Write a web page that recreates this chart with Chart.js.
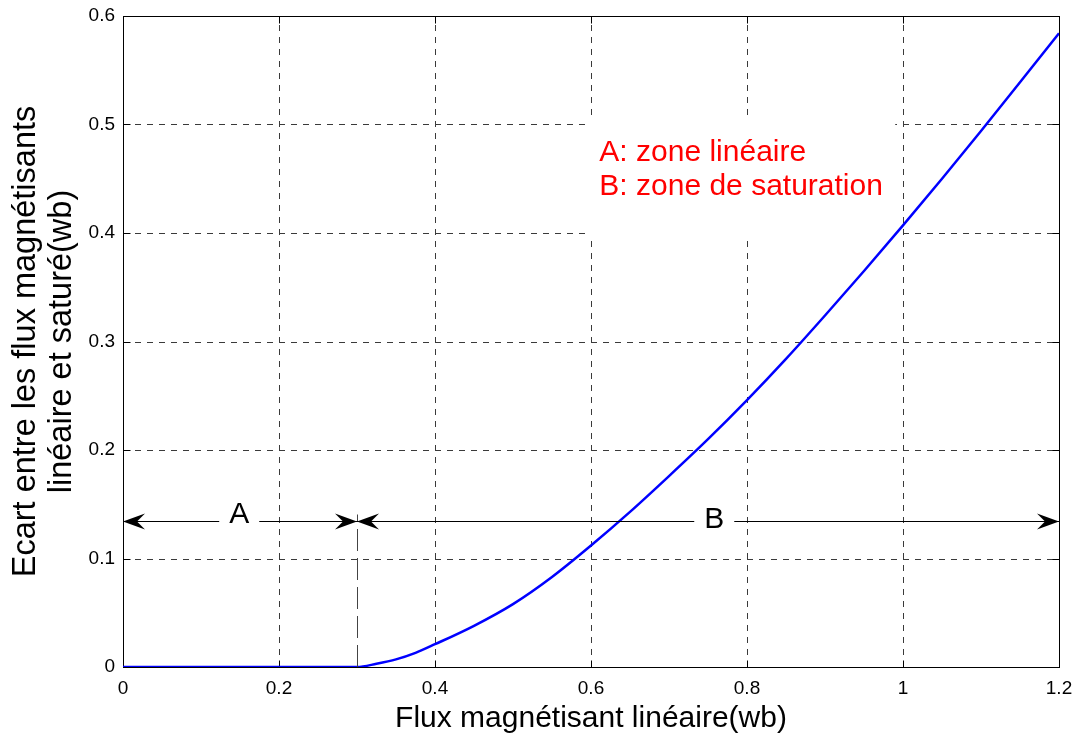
<!DOCTYPE html>
<html>
<head>
<meta charset="utf-8">
<script src="https://cdn.jsdelivr.net/npm/chart.js@4.4.0/dist/chart.umd.min.js"></script>
<style>
html,body{margin:0;padding:0;background:#fff;}
#wrap{width:1079px;height:737px;}
</style>
</head>
<body>
<div id="wrap"><canvas id="c" width="1079" height="737"></canvas></div>
<script>
// ---- data ----
const fluxLineaire = [0, 0.05, 0.1, 0.15, 0.2, 0.25, 0.3, 0.325, 0.35, 0.375, 0.4, 0.45, 0.5, 0.55, 0.6, 0.65, 0.7, 0.75, 0.8, 0.85, 0.9, 0.95, 1.0, 1.05, 1.1, 1.15, 1.2];
const ecartFlux    = [0, 0, 0, 0, 0, 0, 0, 0.003, 0.007, 0.013, 0.021, 0.038, 0.058, 0.083, 0.112, 0.143, 0.176, 0.210, 0.246, 0.284, 0.324, 0.365, 0.407, 0.450, 0.494, 0.539, 0.584];
const xTicks = [0, 0.2, 0.4, 0.6, 0.8, 1.0, 1.2];
const xTickLabels = ['0', '0.2', '0.4', '0.6', '0.8', '1', '1.2'];
const yTicks = [0, 0.1, 0.2, 0.3, 0.4, 0.5, 0.6];
const yTickLabels = ['0', '0.1', '0.2', '0.3', '0.4', '0.5', '0.6'];
const xTitle = 'Flux magnétisant linéaire(wb)';
const yTitle = ['Ecart entre les flux magnétisants', 'linéaire et saturé(wb)'];
const zoneA = {from: 0, to: 0.3, label: 'A', labelX: 0.149};
const zoneB = {from: 0.3, to: 1.2, label: 'B', labelX: 0.758};
const arrowY = 0.1345;
const noteLines = ['A: zone linéaire', 'B: zone de saturation'];
const noteAnchor = {x: 0.612, y: 0.466};
const noteBox = {x0: 0.594, x1: 0.99, y0: 0.396, y1: 0.508};

const FONT = '"Liberation Sans", Arial, Helvetica, sans-serif';

const decor = {
  id: 'decor',
  beforeDatasetsDraw(chart) {
    const {ctx, chartArea: a, scales: {x, y}} = chart;
    ctx.save();
    // dashed grid
    ctx.strokeStyle = '#3a3a3a';
    ctx.lineWidth = 1;
    ctx.setLineDash([6, 6]);
    xTicks.forEach(v => {
      if (v <= x.min || v >= x.max) return;
      const px = Math.round(x.getPixelForValue(v)) + 0.5;
      ctx.beginPath(); ctx.moveTo(px, a.bottom); ctx.lineTo(px, a.top); ctx.stroke();
    });
    yTicks.forEach(v => {
      if (v <= y.min || v >= y.max) return;
      const py = Math.round(y.getPixelForValue(v)) + 0.5;
      ctx.beginPath(); ctx.moveTo(a.left, py); ctx.lineTo(a.right, py); ctx.stroke();
    });
    ctx.setLineDash([]);
    // white box behind the note
    ctx.fillStyle = '#fff';
    const bx0 = x.getPixelForValue(noteBox.x0), bx1 = x.getPixelForValue(noteBox.x1);
    const by0 = y.getPixelForValue(noteBox.y1), by1 = y.getPixelForValue(noteBox.y0);
    ctx.fillRect(bx0, by0, bx1 - bx0, by1 - by0);
    // frame
    ctx.strokeStyle = '#000';
    const L = Math.round(a.left) + 0.5, R = Math.round(a.right) + 0.5;
    const T = Math.round(a.top) + 0.5, B = Math.round(a.bottom) + 0.5;
    ctx.strokeRect(L, T, R - L, B - T);
    // inner ticks
    const tl = 7;
    ctx.beginPath();
    xTicks.forEach(v => {
      const px = Math.round(x.getPixelForValue(v)) + 0.5;
      ctx.moveTo(px, B); ctx.lineTo(px, B - tl);
      ctx.moveTo(px, T); ctx.lineTo(px, T + tl);
    });
    yTicks.forEach(v => {
      const py = Math.round(y.getPixelForValue(v)) + 0.5;
      ctx.moveTo(L, py); ctx.lineTo(L + tl, py);
      ctx.moveTo(R, py); ctx.lineTo(R - tl, py);
    });
    ctx.stroke();
    // axis titles
    ctx.fillStyle = '#000';
    ctx.font = '30px ' + FONT;
    ctx.textAlign = 'center';
    ctx.textBaseline = 'alphabetic';
    ctx.fillText(xTitle, (a.left + a.right) / 2, 727);
    ctx.save();
    ctx.font = '32.5px ' + FONT;
    ctx.translate(0, (a.top + a.bottom) / 2);
    ctx.rotate(-Math.PI / 2);
    ctx.fillText(yTitle[0], 0, 35);
    ctx.fillText(yTitle[1], 0, 71);
    ctx.restore();
    ctx.restore();
  },
  afterDatasetsDraw(chart) {
    const {ctx, scales: {x, y}} = chart;
    ctx.save();
    const ay = Math.round(y.getPixelForValue(arrowY)) + 0.5;
    // vertical dashed separator
    const sx = Math.round(x.getPixelForValue(zoneA.to)) + 0.5;
    ctx.strokeStyle = '#444';
    ctx.lineWidth = 1;
    ctx.setLineDash([22, 7]);
    ctx.beginPath(); ctx.moveTo(sx, y.getPixelForValue(0)); ctx.lineTo(sx, ay - 7); ctx.stroke();
    ctx.setLineDash([]);
    // arrows
    ctx.strokeStyle = '#000';
    ctx.fillStyle = '#000';
    function head(tx, dir) {
      ctx.beginPath();
      ctx.moveTo(tx, ay);
      ctx.lineTo(tx - dir * 22, ay - 8);
      ctx.lineTo(tx - dir * 14, ay);
      ctx.lineTo(tx - dir * 22, ay + 8);
      ctx.closePath();
      ctx.fill();
    }
    [zoneA, zoneB].forEach(z => {
      const x0 = x.getPixelForValue(z.from), x1 = x.getPixelForValue(z.to);
      ctx.beginPath(); ctx.moveTo(x0, ay); ctx.lineTo(x1, ay); ctx.stroke();
      head(x0, -1); head(x1, 1);
      const lx = x.getPixelForValue(z.labelX);
      ctx.font = '30px ' + FONT;
      const w = ctx.measureText(z.label).width;
      ctx.fillStyle = '#fff';
      ctx.fillRect(lx - w / 2 - 10, ay - 3, w + 20, 6);
      ctx.fillStyle = '#000';
      ctx.textAlign = 'center';
      ctx.textBaseline = 'alphabetic';
      ctx.fillText(z.label, lx, z.label === 'A' ? ay + 1 : ay + 6);
    });
    // note
    ctx.fillStyle = '#ff0000';
    ctx.font = '30px ' + FONT;
    ctx.textAlign = 'left';
    ctx.textBaseline = 'alphabetic';
    const nx = x.getPixelForValue(noteAnchor.x) - 1;
    const ny = y.getPixelForValue(noteAnchor.y);
    noteLines.forEach((t, i) => ctx.fillText(t, nx, ny + i * 34));
    ctx.restore();
  }
};

new Chart(document.getElementById('c'), {
  type: 'line',
  data: {
    datasets: [{
      data: fluxLineaire.map((v, i) => ({x: v, y: ecartFlux[i]})),
      borderColor: '#0000ff',
      borderWidth: 2.5,
      pointRadius: 0,
      cubicInterpolationMode: 'monotone',
      fill: false
    }]
  },
  options: {
    responsive: false,
    devicePixelRatio: 1,
    animation: false,
    layout: {padding: {top: 16, right: 20, left: 0, bottom: 0}},
    plugins: {legend: {display: false}, tooltip: {enabled: false}},
    scales: {
      x: {
        type: 'linear', min: 0, max: 1.2,
        afterBuildTicks: s => { s.ticks = xTicks.map(v => ({value: v})); },
        afterFit: s => { s.height = 70; s.paddingLeft = 0; s.paddingRight = 0; },
        grid: {display: false, drawTicks: false},
        border: {display: false},
        ticks: {
          padding: 10, color: '#000', font: {size: 19, family: FONT},
          maxRotation: 0, autoSkip: false,
          callback: (v, i) => xTickLabels[i]
        }
      },
      y: {
        type: 'linear', min: 0, max: 0.6,
        afterBuildTicks: s => { s.ticks = yTicks.map(v => ({value: v})); },
        afterFit: s => { s.width = 123; s.paddingTop = 0; s.paddingBottom = 0; },
        grid: {display: false, drawTicks: false},
        border: {display: false},
        ticks: {
          padding: 8, color: '#000', font: {size: 19, family: FONT},
          autoSkip: false,
          callback: (v, i) => yTickLabels[i]
        }
      }
    }
  },
  plugins: [decor]
});
</script>
</body>
</html>
